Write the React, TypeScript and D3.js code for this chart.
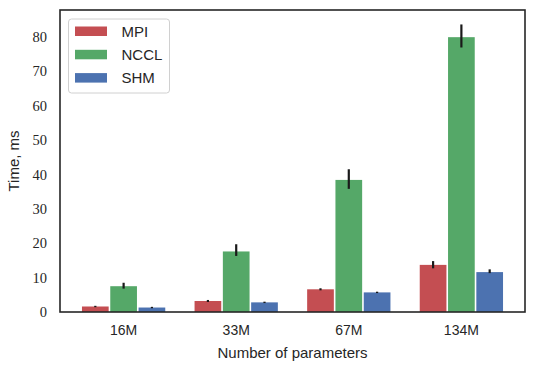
import * as d3 from "d3";
import { useEffect, useRef } from "react";

// Data
const categories = ["16M", "33M", "67M", "134M"];
const series = ["MPI", "NCCL", "SHM"];
const colors = ["#c44e52", "#55a868", "#4c72b0"];
const mpiValues = [1.6, 3.2, 6.6, 13.7];
const ncclValues = [7.5, 17.6, 38.4, 79.9];
const shmValues = [1.3, 2.8, 5.7, 11.6];
const mpiLow = [1.4, 2.9, 6.3, 12.7];
const mpiHigh = [1.8, 3.5, 6.9, 14.8];
const ncclLow = [6.8, 16.3, 35.8, 76.9];
const ncclHigh = [8.5, 19.7, 41.5, 83.6];
const shmLow = [1.1, 2.6, 5.5, 11.3];
const shmHigh = [1.5, 3.0, 5.9, 12.4];
const yTicks = [0, 10, 20, 30, 40, 50, 60, 70, 80];

const drawChart = (node: SVGSVGElement) => {
  const width = 535;
  const height = 371;
  const margin = { top: 10, right: 10, bottom: 59, left: 60 };
  const w = width - margin.left - margin.right;
  const h = height - margin.top - margin.bottom;

  const svg = d3.select(node);
  svg.selectAll("*").remove();
  const g = svg.append("g").attr("transform", `translate(${margin.left},${margin.top})`);

  const values = [mpiValues, ncclValues, shmValues];
  const lows = [mpiLow, ncclLow, shmLow];
  const highs = [mpiHigh, ncclHigh, shmHigh];

  const x = d3.scaleBand().domain(categories).range([0, w]).paddingInner(0).paddingOuter(0.065);
  const groupWidth = x.step() * 0.754;
  const x1 = d3.scaleBand().domain(series).range([-groupWidth / 2, groupWidth / 2]);
  const y = d3.scaleLinear().domain([0, 87.8]).range([h, 0]);

  const sans = "'Liberation Sans', 'DejaVu Sans', sans-serif";
  const serif = "'Liberation Serif', 'DejaVu Serif', serif";

  // bars + error bars
  series.forEach((s, si) => {
    g.append("g")
      .selectAll("rect")
      .data(categories)
      .join("rect")
      .attr("x", (c) => x(c)! + x.bandwidth() / 2 + x1(s)! + 0.8)
      .attr("width", x1.bandwidth() - 1.6)
      .attr("y", (c, i) => y(values[si][i]))
      .attr("height", (c, i) => h - y(values[si][i]))
      .attr("fill", colors[si]);

    g.append("g")
      .selectAll("line")
      .data(categories)
      .join("line")
      .attr("x1", (c) => x(c)! + x.bandwidth() / 2 + x1(s)! + x1.bandwidth() / 2)
      .attr("x2", (c) => x(c)! + x.bandwidth() / 2 + x1(s)! + x1.bandwidth() / 2)
      .attr("y1", (c, i) => y(lows[si][i]))
      .attr("y2", (c, i) => y(highs[si][i]))
      .attr("stroke", "#1a1a1a")
      .attr("stroke-width", 2.2);
  });

  // y axis labels
  const yAxis = d3.axisLeft(y).tickValues(yTicks).tickSize(0).tickPadding(13);
  const yg = g.append("g").call(yAxis);
  yg.select(".domain").remove();
  yg.selectAll("text").attr("font-family", serif).attr("font-size", 14.5).attr("fill", "#262626");

  // x axis labels
  const xAxis = d3.axisBottom(x).tickSize(0).tickPadding(13);
  const xg = g.append("g").attr("transform", `translate(0,${h})`).call(xAxis);
  xg.select(".domain").remove();
  xg.selectAll("text").attr("font-family", sans).attr("font-size", 14).attr("fill", "#262626");

  // frame
  g.append("rect")
    .attr("x", 0)
    .attr("y", 0)
    .attr("width", w)
    .attr("height", h)
    .attr("fill", "none")
    .attr("stroke", "#262626")
    .attr("stroke-width", 1.6);

  // axis titles
  g.append("text")
    .attr("x", w / 2)
    .attr("y", h + 46)
    .attr("text-anchor", "middle")
    .attr("font-family", sans)
    .attr("font-size", 15)
    .attr("fill", "#262626")
    .text("Number of parameters");

  g.append("text")
    .attr("transform", "rotate(-90)")
    .attr("x", -h / 2)
    .attr("y", -41)
    .attr("text-anchor", "middle")
    .attr("font-family", sans)
    .attr("font-size", 15)
    .attr("fill", "#262626")
    .text("Time, ms");

  // legend
  const legend = g.append("g").attr("transform", "translate(8.5,9)");
  legend.append("rect")
    .attr("width", 101)
    .attr("height", 74)
    .attr("rx", 3)
    .attr("fill", "white")
    .attr("stroke", "#d0d0d0")
    .attr("stroke-width", 1);
  series.forEach((s, si) => {
    legend.append("rect")
      .attr("x", 6.5)
      .attr("y", 7.5 + si * 23.3)
      .attr("width", 32)
      .attr("height", 9.5)
      .attr("fill", colors[si]);
    legend.append("text")
      .attr("x", 53)
      .attr("y", 12.3 + si * 23.3)
      .attr("dy", "0.35em")
      .attr("font-family", sans)
      .attr("font-size", 15)
      .attr("fill", "#262626")
      .text(s);
  });
};

export default function App() {
  const ref = useRef<SVGSVGElement>(null);

  useEffect(() => {
    if (ref.current) drawChart(ref.current);
  }, []);

  return (
    <svg
      ref={ref}
      width={535}
      height={371}
      style={{ position: "absolute", left: 0, top: 0, background: "white" }}
    />
  );
}
